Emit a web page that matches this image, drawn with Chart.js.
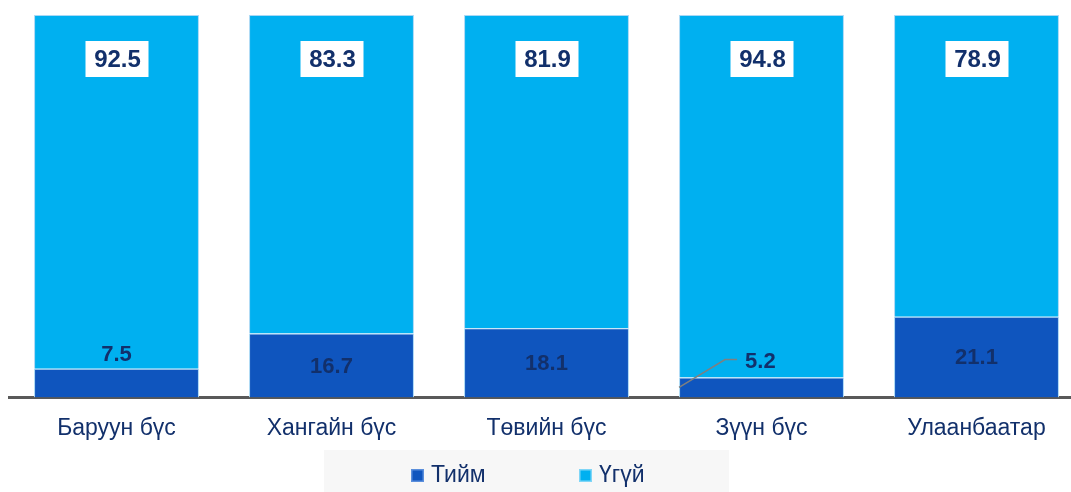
<!DOCTYPE html>
<html>
<head>
<meta charset="utf-8">
<script src="https://cdn.jsdelivr.net/npm/chart.js@4"></script>
<style>
  html, body { margin: 0; padding: 0; background: #fff; overflow: hidden; }
  #wrap { width: 1071px; height: 492px; overflow: hidden; }
</style>
</head>
<body>
<div id="wrap"><canvas id="chart" width="1090" height="492"></canvas></div>
<script>
// data
const regions = ['Баруун бүс', 'Хангайн бүс', 'Төвийн бүс', 'Зүүн бүс', 'Улаанбаатар'];
const yesValues = [7.5, 16.7, 18.1, 5.2, 21.1];
const noValues = [92.5, 83.3, 81.9, 94.8, 78.9];
const seriesNames = ['Тийм', 'Үгүй'];

const NAVY = '#12306b';
const YES_COLOR = '#0f55be';
const NO_COLOR = '#00b0f0';
const FONT = '"Liberation Sans", Arial, sans-serif';

// labels on small segments go above the bar, with a leader line for these
const leaderFor = [3];

const labelPlugin = {
    id: 'labels',
    afterDatasetsDraw(chart) {
        const ctx = chart.ctx;
        const y = chart.scales.y;
        ctx.save();
        ctx.textAlign = 'center';
        ctx.textBaseline = 'middle';

        // Үгүй values in white boxes near the top
        chart.getDatasetMeta(1).data.forEach((bar, i) => {
            const cy = y.getPixelForValue(100) + 44;
            ctx.fillStyle = '#ffffff';
            ctx.fillRect(bar.x - 31, cy - 18, 63, 36);
            ctx.fillStyle = NAVY;
            ctx.font = 'bold 24px ' + FONT;
            ctx.fillText(noValues[i].toFixed(1), bar.x + 1, cy + 1);
        });

        // Тийм values
        chart.getDatasetMeta(0).data.forEach((bar, i) => {
            const v = yesValues[i];
            ctx.font = 'bold 22px ' + FONT;
            ctx.fillStyle = NAVY;
            if (v >= 10) {
                ctx.fillText(v.toFixed(1), bar.x, (bar.y + bar.base) / 2 + 1);
            } else if (leaderFor.includes(i)) {
                const top = bar.y;
                const x0 = bar.x - bar.width / 2;
                ctx.strokeStyle = '#7f7f7f';
                ctx.lineWidth = 1.5;
                ctx.beginPath();
                ctx.moveTo(x0, bar.base - 10);
                ctx.lineTo(x0 + 46, top - 18);
                ctx.lineTo(x0 + 58, top - 18);
                ctx.stroke();
                ctx.textAlign = 'left';
                ctx.fillText(v.toFixed(1), x0 + 66, top - 16);
                ctx.textAlign = 'center';
            } else {
                ctx.fillText(v.toFixed(1), bar.x, bar.y - 14);
            }
        });
        ctx.restore();
    },
    afterDraw(chart) {
        // legend in a light grey box
        const ctx = chart.ctx;
        ctx.save();
        ctx.fillStyle = '#f7f7f7';
        ctx.fillRect(324, 450, 405, 42);
        const items = [
            { x: 411, color: YES_COLOR, border: '#5b8fdc' },
            { x: 579, color: NO_COLOR, border: '#7fd6f7' }
        ];
        ctx.font = '23px ' + FONT;
        ctx.textBaseline = 'middle';
        ctx.textAlign = 'left';
        items.forEach((it, i) => {
            ctx.fillStyle = it.border;
            ctx.fillRect(it.x, 469, 13, 13);
            ctx.fillStyle = it.color;
            ctx.fillRect(it.x + 1.5, 470.5, 10, 10);
            ctx.fillStyle = NAVY;
            ctx.fillText(seriesNames[i], it.x + 20, 476);
        });
        ctx.restore();
    }
};

new Chart(document.getElementById('chart'), {
    type: 'bar',
    data: {
        labels: regions,
        datasets: [
            { label: seriesNames[0], data: yesValues, backgroundColor: YES_COLOR, borderColor: '#a9d8f5', borderWidth: 1 },
            { label: seriesNames[1], data: noValues, backgroundColor: NO_COLOR, borderColor: '#a9d8f5', borderWidth: 1 }
        ]
    },
    options: {
        responsive: false,
        animation: false,
        layout: { padding: { top: 15, left: 9, right: 6, bottom: 33 } },
        datasets: { bar: { barPercentage: 0.767, categoryPercentage: 1 } },
        plugins: { legend: { display: false }, tooltip: { enabled: false } },
        scales: {
            x: {
                stacked: true,
                grid: { display: false, drawTicks: false },
                border: { display: true, color: '#595959', width: 3 },
                ticks: { color: NAVY, font: { family: FONT, size: 23 }, padding: 17 }
            },
            y: {
                stacked: true,
                display: false,
                min: 0,
                max: 100
            }
        }
    },
    plugins: [labelPlugin]
});
</script>
</body>
</html>
